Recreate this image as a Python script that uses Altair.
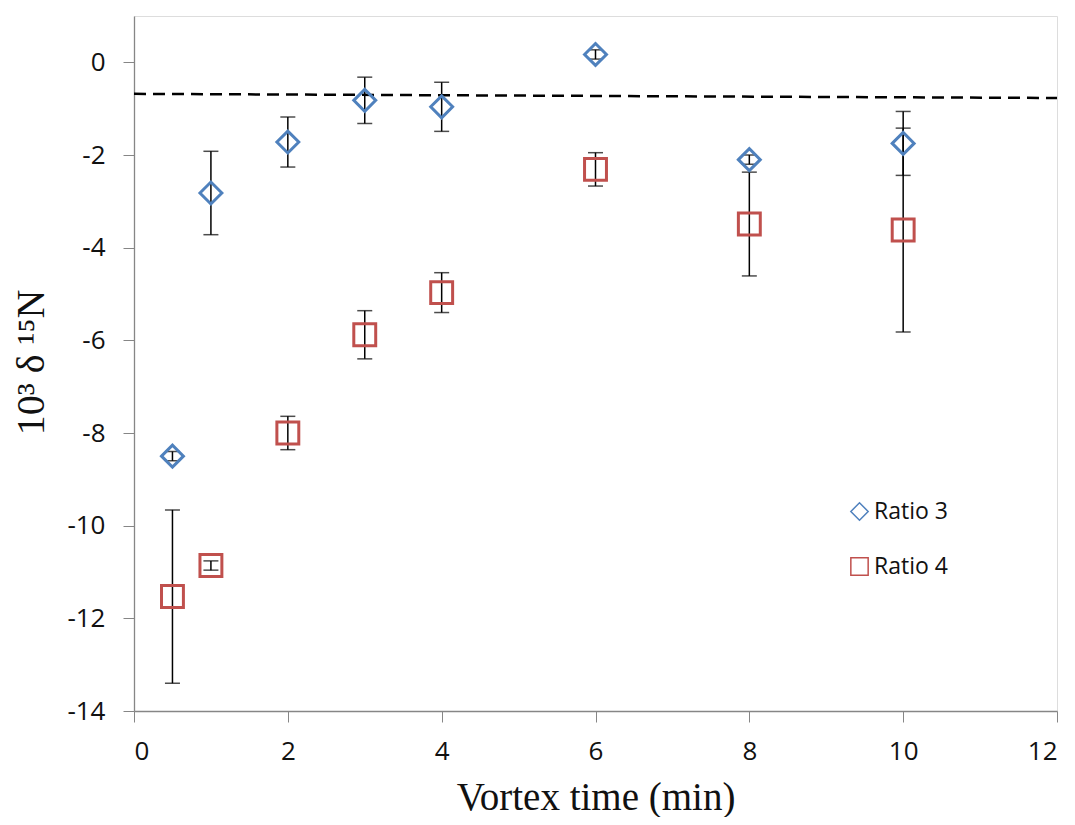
import altair as alt
import pandas as pd

# ---- data ----
time = [0.5, 1, 2, 3, 4, 6, 8, 10]
ratio3 = [-8.50, -2.82, -1.72, -0.82, -0.96, 0.17, -2.10, -1.75]
ratio3_err = [0.10, 0.90, 0.54, 0.50, 0.53, 0.10, 0.10, 0.69]
ratio4 = [-11.53, -10.86, -8.00, -5.88, -4.97, -2.31, -3.49, -3.62]
ratio4_err = [1.87, 0.10, 0.36, 0.52, 0.43, 0.36, 1.12, 2.20]
series_names = ["Ratio 3", "Ratio 4"]
ref_x = [0, 12]
ref_y = [-0.68, -0.77]
y_ticks = [-14, -12, -10, -8, -6, -4, -2, 0]
x_ticks = [0, 2, 4, 6, 8, 10, 12]

rows = []
for t, v, e in zip(time, ratio3, ratio3_err):
    rows.append({"t": t, "v": v, "lo": v - e, "hi": v + e, "series": series_names[0]})
for t, v, e in zip(time, ratio4, ratio4_err):
    rows.append({"t": t, "v": v, "lo": v - e, "hi": v + e, "series": series_names[1]})
df = pd.DataFrame(rows)
ref = pd.DataFrame({"x": ref_x, "y": ref_y})

W, H = 923, 695
xs = alt.Scale(domain=[0, 12], nice=False)
ys = alt.Scale(domain=[-14, 1], nice=False)

x_axis = alt.Axis(
    values=x_ticks, title="Vortex time (min)", grid=False,
    labelExpr="'' + datum.value",
    domainColor="#868686", tickColor="#868686", tickSize=11, domainWidth=1.3,
    labelFont="Open Sans", labelFontSize=26, labelColor="#111111", labelPadding=16,
    titleFont="Liberation Serif", titleFontSize=39, titleFontWeight="normal",
    titleColor="#111111", titleBaseline="alphabetic", titleY=98, titleX=W / 2,
)
y_axis = alt.Axis(
    values=y_ticks, title="10³ δ ¹⁵N", grid=False,
    labelExpr="'' + datum.value",
    domainColor="#868686", tickColor="#868686", tickSize=11, domainWidth=1.3,
    labelFont="Open Sans", labelFontSize=26, labelColor="#111111", labelPadding=18,
    titleFont="Liberation Serif", titleFontSize=40, titleFontWeight="normal",
    titleColor="#111111", titleBaseline="alphabetic", titleX=-91, titleY=346,
    titleAngle=-90,
)

base = alt.Chart(df)

err = base.mark_rule(color="black", strokeWidth=1.5).encode(
    x=alt.X("t:Q", scale=xs, axis=x_axis),
    y=alt.Y("lo:Q", scale=ys, axis=y_axis),
    y2="hi:Q",
)
cap_lo = base.mark_tick(color="black", thickness=1.5, size=15, orient="horizontal").encode(
    x=alt.X("t:Q", scale=xs), y=alt.Y("lo:Q", scale=ys)
)
cap_hi = base.mark_tick(color="black", thickness=1.5, size=15, orient="horizontal").encode(
    x=alt.X("t:Q", scale=xs), y=alt.Y("hi:Q", scale=ys)
)

dash = alt.Chart(ref).mark_line(color="black", strokeWidth=2.5, strokeDash=[12, 7]).encode(
    x=alt.X("x:Q", scale=xs), y=alt.Y("y:Q", scale=ys)
)

points = base.mark_point(filled=False, size=480, strokeWidth=3, opacity=1).encode(
    x=alt.X("t:Q", scale=xs),
    y=alt.Y("v:Q", scale=ys),
    color=alt.Color(
        "series:N",
        scale=alt.Scale(domain=series_names, range=["#4F81BD", "#C0504D"]),
        legend=alt.Legend(
            title=None, orient="none", legendX=714, legendY=484,
            labelFont="Open Sans", labelFontSize=23, labelColor="#111111",
            symbolSize=300, symbolStrokeWidth=1.5, rowPadding=30, labelOffset=3,
            padding=0,
        ),
    ),
    shape=alt.Shape(
        "series:N",
        scale=alt.Scale(domain=series_names, range=["diamond", "square"]),
    ),
)

chart = alt.layer(dash, err, cap_lo, cap_hi, points).properties(
    width=W, height=H,
    autosize=alt.AutoSizeParams(type="none"),
    padding={"left": 126, "top": 8, "right": 10, "bottom": 106},
).configure_view(stroke="#d9d9d9", strokeWidth=1.3).configure(background="white")

chart.save("out.html", embed_options={"renderer": "svg", "actions": False})
